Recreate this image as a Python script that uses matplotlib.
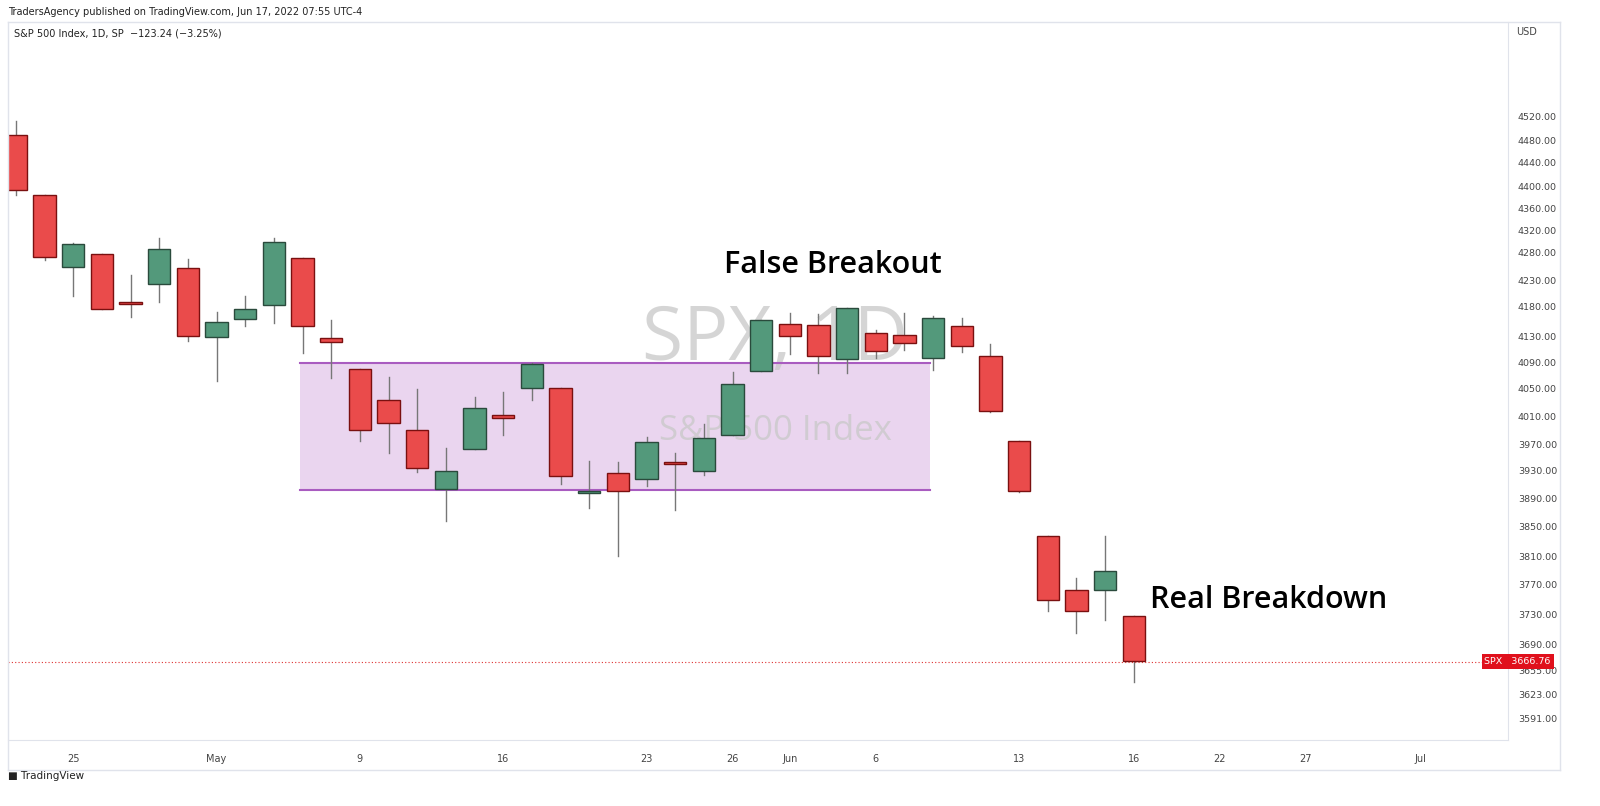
import numpy as np
import matplotlib.pyplot as plt
from matplotlib.patches import Rectangle

# daily OHLC, S&P 500, Apr 21 - Jun 16 2022
opens = [4489, 4385, 4255, 4279, 4187, 4222, 4253, 4130, 4159, 4182, 4270, 4128,
         4081, 4035, 3991, 3904, 3963, 4013, 4052, 4051, 3899, 3927, 3919, 3942,
         3930, 3984, 4077, 4151, 4150, 4096, 4137, 4134, 4097, 4148, 4101, 3974,
         3838, 3763, 3764, 3729]
highs = [4512, 4385, 4299, 4279, 4240, 4308, 4269, 4170, 4200, 4308, 4270, 4157,
         4081, 4069, 4050, 3964, 4038, 4046, 4090, 4051, 3945, 3943, 3981, 3956,
         3999, 4076, 4158, 4169, 4167, 4177, 4142, 4169, 4164, 4160, 4119, 3974,
         3838, 3779, 3838, 3729]
lows = [4385, 4267, 4200, 4175, 4162, 4188, 4124, 4063, 4147, 4152, 4106, 4067,
        3975, 3957, 3928, 3859, 3963, 3983, 4034, 3911, 3877, 3810, 3909, 3875,
        3925, 3984, 4077, 4104, 4074, 4074, 4098, 4110, 4080, 4107, 4017, 3900,
        3735, 3706, 3723, 3639]
closes = [4393, 4272, 4296, 4175, 4183, 4287, 4132, 4155, 4175, 4300, 4147, 4123,
          3991, 4001, 3935, 3930, 4023, 4008, 4088, 3923, 3900, 3901, 3973, 3941,
          3979, 4058, 4158, 4132, 4101, 4176, 4109, 4121, 4161, 4116, 4018, 3901,
          3750, 3735, 3790, 3667]
last_price = 3666.76

# x-axis labels: (bar index, text)
xlabels = [(2, '25'), (7, 'May'), (12, '9'), (17, '16'), (22, '23'), (25, '26'),
           (27, 'Jun'), (30, '6'), (35, '13'), (39, '16'), (42, '22'), (45, '27'),
           (49, 'Jul')]

# price scale (price, pixel row)
tick_prices = [3591, 3623, 3655, 3690, 3730, 3770, 3810, 3850, 3890, 3930, 3970,
               4010, 4050, 4090, 4130, 4180, 4230, 4280, 4320, 4360, 4400, 4440,
               4480, 4520]
tick_rows = [718, 694, 670, 645, 615, 585, 556, 527, 499, 471, 444, 417, 389, 363,
             337, 306, 280, 253, 231, 209, 186, 163, 140, 116]

# range box
box_low, box_high = 3903, 4090
box_x0, box_x1 = 9.9, 31.9

UP = '#53997b'
DOWN = '#ea4b4b'

sp = [3400] + tick_prices + [4800]
sr = [860] + tick_rows + [-35]
sp_r, sr_r = sp[::-1], sr[::-1]


def fwd(p):
    return -np.interp(p, sp, sr)


def inv(v):
    return np.interp(-np.asarray(v), sr_r, sp_r)


fig = plt.figure(figsize=(16, 8.06), dpi=100)
W, H = 1600, 806
ax = fig.add_axes([8 / W, (H - 740) / H, 1500 / W, (740 - 22) / H])
ax.set_yscale('function', functions=(fwd, inv))
ax.set_ylim(float(inv(-740)), float(inv(-22)))
ax.set_xlim((8 - 16) / 28.66, (1508 - 16) / 28.66)

# range box
ax.add_patch(Rectangle((box_x0, box_low), box_x1 - box_x0, box_high - box_low,
                       facecolor='#ead5ef', edgecolor='none', zorder=1))
for y in (box_low, box_high):
    ax.plot([box_x0, box_x1], [y, y], color='#a95cc0', lw=1.5, zorder=2)

# watermark
ax.text(26.5, 4125, 'SPX, 1D', fontsize=54, color='#c8c8c8', alpha=0.75,
        ha='center', va='center', zorder=1.5, family='Open Sans')
ax.text(26.5, 3990, 'S&P 500 Index', fontsize=25, color='#c8c8c8', alpha=0.75,
        ha='center', va='center', zorder=1.5, family='Open Sans')

w = 0.78
for i, (o, h, l, c) in enumerate(zip(opens, highs, lows, closes)):
    col = UP if c >= o else DOWN
    ec = '#2a4a3c' if c >= o else '#7a1010'
    ax.plot([i, i], [l, h], color='#777777', lw=1, zorder=3)
    lo, hi = min(o, c), max(o, c)
    if hi - lo < 2:
        lo, hi = lo - 1, hi + 1
    ax.add_patch(Rectangle((i - w / 2, lo), w, hi - lo, facecolor=col,
                           edgecolor=ec, lw=1, zorder=4))

ax.axhline(last_price, color='#e03030', lw=0.8, ls=(0, (1, 2)), zorder=2)

ax.text(28.5, 4258, 'False Breakout', fontsize=22, fontweight='semibold',
        family='Open Sans', ha='center', va='center', zorder=5)
ax.text(43.7, 3750, 'Real Breakdown', fontsize=22, fontweight='semibold',
        family='Open Sans', ha='center', va='center', zorder=5)

ax.yaxis.tick_right()
ax.set_yticks(tick_prices)
ax.set_yticklabels(['%.2f' % p for p in tick_prices], fontsize=6.8, color='#444444')
ax.tick_params(axis='y', length=0, pad=7)
ax.set_xticks([p for p, _ in xlabels])
ax.set_xticklabels([t for _, t in xlabels], fontsize=7, color='#444444')
ax.tick_params(axis='x', length=0, pad=10)
for s in ax.spines.values():
    s.set_color('#e0e3eb')
ax.spines['top'].set_visible(False)
ax.spines['left'].set_visible(False)

# last price label
ax.annotate('SPX   %.2f' % last_price, xy=(1.0, last_price),
            xycoords=('axes fraction', 'data'), xytext=(-17, 0),
            textcoords='offset points', fontsize=6.8, color='white', va='center',
            bbox=dict(boxstyle='square,pad=0.3', fc='#e0101c', ec='none'),
            annotation_clip=False, zorder=6)

# frame lines
fig.add_artist(plt.Line2D([8 / W, 1560 / W], [(H - 22) / H] * 2, color='#e0e3eb', lw=1))
fig.add_artist(plt.Line2D([8 / W, 1560 / W], [(H - 770) / H] * 2, color='#e0e3eb', lw=1))
fig.add_artist(plt.Line2D([1560 / W] * 2, [(H - 770) / H, (H - 22) / H], color='#e0e3eb', lw=1))
fig.add_artist(plt.Line2D([8 / W] * 2, [(H - 770) / H, (H - 22) / H], color='#e0e3eb', lw=1))

fig.text(8 / W, 1 - 12 / H, 'TradersAgency published on TradingView.com, Jun 17, 2022 07:55 UTC-4',
         fontsize=7, color='#222222', va='center')
fig.text(14 / W, 1 - 34 / H, 'S&P 500 Index, 1D, SP  \u2212123.24 (\u22123.25%)',
         fontsize=7, color='#222222', va='center')
fig.text(1516 / W, 1 - 32 / H, 'USD', fontsize=7, color='#444444', va='center')
fig.text(8 / W, 1 - 776 / H, '\u25a0 TradingView', fontsize=7.5, color='#222222', va='center')

fig.savefig('out.png', dpi=100, facecolor='white')
